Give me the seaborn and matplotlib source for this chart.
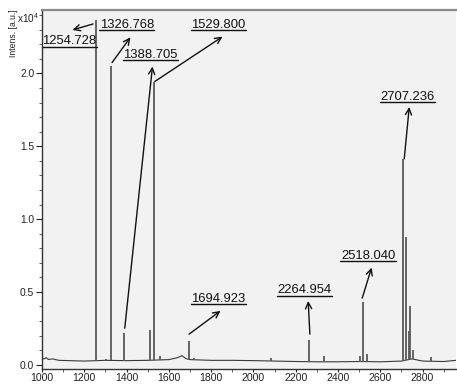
import numpy as np
import pandas as pd
import matplotlib
matplotlib.use("Agg")
import matplotlib.pyplot as plt
from matplotlib.ticker import MultipleLocator, FormatStrFormatter
import seaborn as sns

# ---------------- data (intensity in units of 10^4 a.u.) ----------------
peak_mz = [1254.728, 1302, 1326.768, 1388.705, 1512, 1529.800, 1560, 1694.923, 1720,
           2085, 2264.954, 2334, 2503, 2518.040, 2538, 2707.236, 2722, 2735, 2741,
           2756, 2839]
peak_int = [2.37, 0.04, 2.05, 0.22, 0.24, 1.94, 0.06, 0.16, 0.045,
            0.045, 0.17, 0.06, 0.06, 0.43, 0.073, 1.41, 0.88, 0.23, 0.40,
            0.10, 0.05]

base_mz = [1000, 1010, 1020, 1030, 1050, 1080, 1150, 1200, 1300, 1400, 1500, 1600,
           1640, 1662, 1680, 1700, 1800, 1900, 2000, 2100, 2200, 2300, 2400, 2500,
           2600, 2700, 2750, 2800, 2900, 2958]
base_int = [0.045, 0.040, 0.048, 0.036, 0.040, 0.030, 0.027, 0.025, 0.030, 0.028,
            0.030, 0.035, 0.048, 0.062, 0.042, 0.035, 0.030, 0.030, 0.028, 0.025,
            0.022, 0.020, 0.020, 0.022, 0.020, 0.025, 0.040, 0.025, 0.022, 0.030]

label_text = ["1254.728", "1326.768", "1388.705", "1529.800",
              "1694.923", "2264.954", "2518.040", "2707.236"]

x_ticks = [1000, 1200, 1400, 1600, 1800, 2000, 2200, 2400, 2600, 2800]
y_ticks = [0.0, 0.5, 1.0, 1.5, 2.0]

# ---------------- layout of annotations (data coords) ----------------
label_pos = [(1129.7, 2.22), (1400.9, 2.334), (1513.0, 2.128), (1835.4, 2.334),
             (1834.0, 0.453), (2241.0, 0.51), (2542.0, 0.747), (2729.7, 1.839)]
arrow_from = [(1241.4, 2.340), (1331.3, 2.075), (1391.4, 0.251), (1533.4, 1.945),
              (1695.7, 0.210), (2266.9, 0.210), (2514.4, 0.457), (2713.2, 1.414)]
arrow_to = [(1143.9, 2.299), (1418.4, 2.249), (1522.5, 2.048), (1853.8, 2.253),
            (1844.3, 0.370), (2258.9, 0.438), (2558.9, 0.667), (2736.9, 1.770)]

# ---------------- style ----------------
sns.set_style("ticks")
plt.rcParams['font.family'] = ['Liberation Sans', 'DejaVu Sans']
plt.rcParams['mathtext.fontset'] = 'custom'
plt.rcParams['mathtext.rm'] = 'Liberation Sans'
plt.rcParams['mathtext.it'] = 'Liberation Sans'

W, H = 457, 385
fig = plt.figure(figsize=(W / 100, H / 100), dpi=100)
fig.patch.set_facecolor('white')
ax = fig.add_axes([42 / W, 16 / H, (456 - 42) / W, (369 - 10) / H])
ax.set_facecolor('#f2f2f2')

# baseline trace
sns.lineplot(x=base_mz, y=base_int, ax=ax, color='#3a3a3a', lw=0.8,
             estimator=None, sort=True)
# stick peaks
pk_base = np.interp(peak_mz, base_mz, base_int)
ax.vlines(peak_mz, pk_base, peak_int, color='#5a5a5a', lw=1.3)

ax.set_xlim(1000, 2958)
ax.set_ylim(-0.0295, 2.436)
ax.set_xticks(x_ticks)
ax.xaxis.set_minor_locator(MultipleLocator(100))
ax.set_yticks(y_ticks)
ax.yaxis.set_minor_locator(MultipleLocator(0.1))
ax.yaxis.set_major_formatter(FormatStrFormatter('%.1f'))
ax.tick_params(axis='x', which='major', labelsize=7.6, length=2.5, width=0.8,
               direction='out', pad=0.6, colors='#222222')
ax.tick_params(axis='y', which='major', labelsize=7.4, length=4, width=0.8,
               direction='out', pad=1.5, colors='#222222')
ax.tick_params(which='minor', length=2, width=0.6, direction='out', colors='#444444')
ax.set_xlabel('')
ax.set_ylabel('')

for s in ['left', 'bottom']:
    ax.spines[s].set_color('#333333')
    ax.spines[s].set_linewidth(1.0)
ax.spines['top'].set_visible(True)
ax.spines['top'].set_color('#8a8a8a')
ax.spines['top'].set_linewidth(1.6)
ax.spines['right'].set_visible(False)

# axis caption texts
fig.text(13.5 / W, 1 - 9 / H, 'Intens. [a.u.]', rotation=90, ha='center', va='top',
         fontsize=6.2, color='#222222')
fig.text(17 / W, 1 - 18.5 / H, r'x10$^{4}$', ha='left', va='center',
         fontsize=7.2, color='#222222')

# annotations
texts = []
for txt, (lx, ly), (fx, fy), (tx, ty) in zip(label_text, label_pos, arrow_from, arrow_to):
    t = ax.text(lx, ly, txt, ha='center', va='center', fontsize=9.4, color='#111111')
    texts.append(t)
    ax.annotate('', xy=(tx, ty), xytext=(fx, fy),
                arrowprops=dict(arrowstyle='->,head_length=0.45,head_width=0.22',
                                color='#111111', lw=1.0, shrinkA=0, shrinkB=0))

fig.canvas.draw()
renderer = fig.canvas.get_renderer()
inv = ax.transData.inverted()
for t in texts:
    bb = t.get_window_extent(renderer)
    (x0, y0) = inv.transform((bb.x0 - 0.5, bb.y0 + 0.8))
    (x1, _) = inv.transform((bb.x1 + 0.5, bb.y0 + 0.8))
    ax.plot([x0, x1], [y0, y0], color='#111111', lw=1.0, clip_on=False)

fig.savefig('out.png', dpi=100, facecolor='white')
